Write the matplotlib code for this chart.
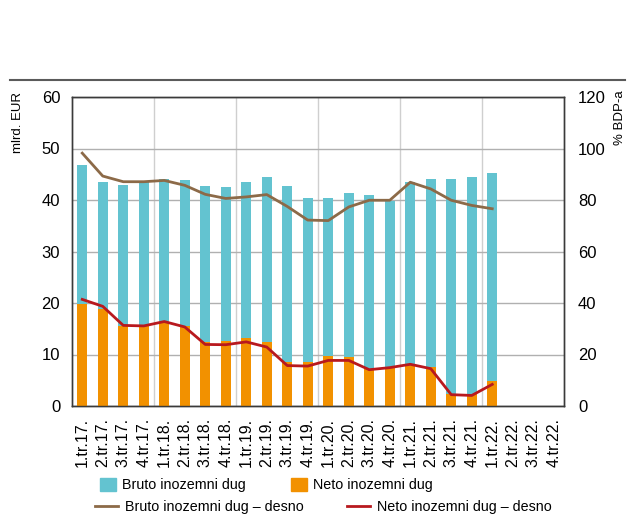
import matplotlib
matplotlib.use('Agg')
import matplotlib.pyplot as plt
from matplotlib.lines import Line2D
from matplotlib.patches import Patch

plt.rcParams['font.family'] = ['Liberation Sans', 'DejaVu Sans']
plt.rcParams['font.size'] = 12

# kvartali 2017. - 2022.
kvartali = ['1.tr.17.', '2.tr.17.', '3.tr.17.', '4.tr.17.',
            '1.tr.18.', '2.tr.18.', '3.tr.18.', '4.tr.18.',
            '1.tr.19.', '2.tr.19.', '3.tr.19.', '4.tr.19.',
            '1.tr.20.', '2.tr.20.', '3.tr.20.', '4.tr.20.',
            '1.tr.21.', '2.tr.21.', '3.tr.21.', '4.tr.21.',
            '1.tr.22.', '2.tr.22.', '3.tr.22.', '4.tr.22.']

# mlrd. EUR
bruto_dug = [46.8, 43.4, 43.0, 43.4, 44.1, 43.9, 42.7, 42.5, 43.4, 44.4, 42.7, 40.3,
             40.3, 41.3, 40.9, 39.9, 43.4, 44.1, 44.1, 44.5, 45.2]
neto_dug = [19.8, 18.8, 15.6, 15.5, 16.2, 15.6, 12.4, 12.6, 13.3, 12.4, 8.5, 8.5,
            9.8, 9.5, 7.1, 7.4, 8.0, 7.6, 2.4, 2.3, 4.9]

# % BDP-a
bruto_bdp = [98.2, 89.3, 87.1, 87.1, 87.6, 85.7, 82.2, 80.6, 81.2, 82.1, 77.5, 72.2,
             72.0, 77.3, 79.9, 79.9, 86.9, 84.3, 79.9, 77.9, 76.6]
neto_bdp = [41.4, 38.7, 31.3, 31.1, 32.8, 30.7, 23.9, 23.8, 24.9, 22.9, 15.7, 15.5,
            17.7, 17.7, 14.1, 14.9, 16.2, 14.5, 4.4, 4.1, 8.4]

c_bruto = '#63c3d0'
c_neto = '#f29100'
c_bruto_l = '#8c6a48'
c_neto_l = '#b8191e'

fig = plt.figure(figsize=(6.36, 5.15), dpi=100)
ax = fig.add_axes([72 / 636, 1 - 406 / 515, 492 / 636, 309 / 515])

x = list(range(len(bruto_dug)))
ax.bar(x, bruto_dug, width=0.5, color=c_bruto, zorder=2)
ax.bar(x, neto_dug, width=0.5, color=c_neto, zorder=3)

ax.set_xlim(-0.5, len(kvartali) - 0.5)
ax.set_ylim(0, 60)
ax.set_yticks(range(0, 61, 10))
ax.set_xticks(range(len(kvartali)))
ax.set_xticklabels(kvartali, rotation=90, fontsize=11.5)
ax.set_xticks([3.5, 7.5, 11.5, 15.5, 19.5], minor=True)
ax.grid(axis='y', which='major', color='#b0b0b0', linewidth=1)
ax.grid(axis='x', which='minor', color='#cfcfcf', linewidth=1)
ax.set_axisbelow(True)
ax.tick_params(axis='both', which='both', length=0)
ax.tick_params(axis='y', pad=8.5)
ax.tick_params(axis='x', pad=8.5)

ax2 = ax.twinx()
ax2.plot(x, bruto_bdp, color=c_bruto_l, linewidth=2)
ax2.plot(x, neto_bdp, color=c_neto_l, linewidth=2)
ax2.set_ylim(0, 120)
ax2.set_yticks(range(0, 121, 20))
ax2.tick_params(axis='y', length=0, pad=10)

for a in (ax, ax2):
    for s in a.spines.values():
        s.set_color('#3a3a3a')
        s.set_linewidth(1)

fig.text(18 / 636, 1 - 92 / 515, 'mlrd. EUR', rotation=90, ha='center', va='top', fontsize=9.5)
fig.text(620 / 636, 1 - 90 / 515, '% BDP-a', rotation=90, ha='center', va='top', fontsize=9.5)

# linija iznad grafikona
fig.add_artist(Line2D([10 / 636, 625 / 636], [1 - 80 / 515, 1 - 80 / 515],
                      color='#5a5a5a', linewidth=1.5))

leg1 = fig.legend([Patch(color=c_bruto), Patch(color=c_neto)],
                  ['Bruto inozemni dug', 'Neto inozemni dug'],
                  loc='center left', bbox_to_anchor=(100 / 636, 1 - 485 / 515),
                  ncol=2, frameon=False, borderpad=0, borderaxespad=0,
                  handlelength=1.1, handleheight=1.05, handletextpad=0.42,
                  columnspacing=3.2, fontsize=10.3)
leg2 = fig.legend([Line2D([], [], color=c_bruto_l, linewidth=2),
                   Line2D([], [], color=c_neto_l, linewidth=2)],
                  ['Bruto inozemni dug – desno', 'Neto inozemni dug – desno'],
                  loc='center left', bbox_to_anchor=(95 / 636, 1 - 507 / 515),
                  ncol=2, frameon=False, borderpad=0, borderaxespad=0,
                  handlelength=1.6, handletextpad=0.5,
                  columnspacing=3.0, fontsize=10.3)

fig.savefig('out.png', dpi=100)
